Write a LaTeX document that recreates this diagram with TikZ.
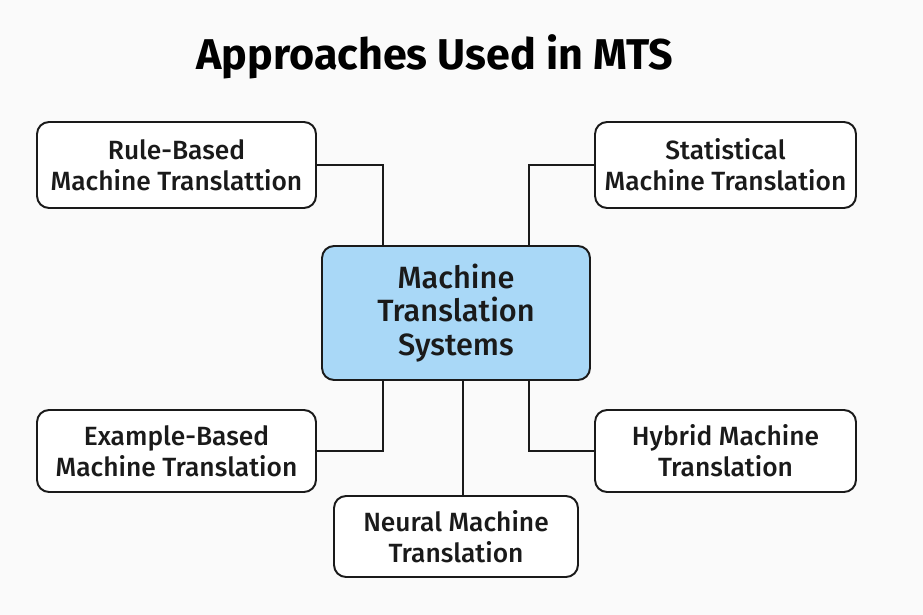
\documentclass[tikz,border=0pt]{standalone}
\usepackage{fontspec}
\setmainfont{Fira Sans}[UprightFont=* Medium,BoldFont=* Bold]
\usepackage{tikz}
\definecolor{mtsblue}{HTML}{A9D8F7}
\definecolor{inkdark}{HTML}{1A1A1A}
\definecolor{paper}{HTML}{FAFAFA}

\begin{document}
\begin{tikzpicture}[x=0.02cm,y=-0.02cm,
    approach/.style={draw=inkdark,line width=1.1pt,rounded corners=0.24cm,fill=white,
      align=center,font=\fontsize{15}{17.5}\selectfont,text=inkdark,inner sep=0pt},
    hub/.style={approach,fill=mtsblue,font=\fontsize{17.5}{19}\selectfont},
    link/.style={draw=inkdark,line width=1.1pt}]
      \fill[paper] (0,0) rectangle (923,615);
      \node[font=\bfseries\fontsize{24.5}{28}\selectfont,text=black] (title) at (435,57) {Approaches Used in MTS};
      % centre box and the five approaches round it
      \node[hub,minimum width=5.36cm,minimum height=2.68cm] (mts) at (456,313) {Machine\\Translation\\Systems};
      \node[approach,minimum width=5.58cm,minimum height=1.72cm] (rbmt) at (176.5,165) {Rule-Based\\Machine Translattion};
      \node[approach,minimum width=5.22cm,minimum height=1.72cm] (smt) at (725.5,165) {Statistical\\Machine Translation};
      \node[approach,minimum width=5.58cm,minimum height=1.64cm] (ebmt) at (176.5,451) {Example-Based\\Machine Translation};
      \node[approach,minimum width=5.22cm,minimum height=1.64cm] (hmt) at (725.5,451) {Hybrid Machine\\Translation};
      \node[approach,minimum width=4.88cm,minimum height=1.62cm] (nmt) at (456,536.5) {Neural Machine\\Translation};
      \draw[link] (rbmt.east) -| ([xshift=1.24cm]mts.north west);
      \draw[link] (smt.west) -| ([xshift=-1.24cm]mts.north east);
      \draw[link] (ebmt.east) -| ([xshift=1.24cm]mts.south west);
      \draw[link] (hmt.west) -| ([xshift=-1.24cm]mts.south east);
      \draw[link] ([xshift=0.14cm]mts.south) -- ([xshift=0.14cm]nmt.north);
    \end{tikzpicture}
\end{document}
